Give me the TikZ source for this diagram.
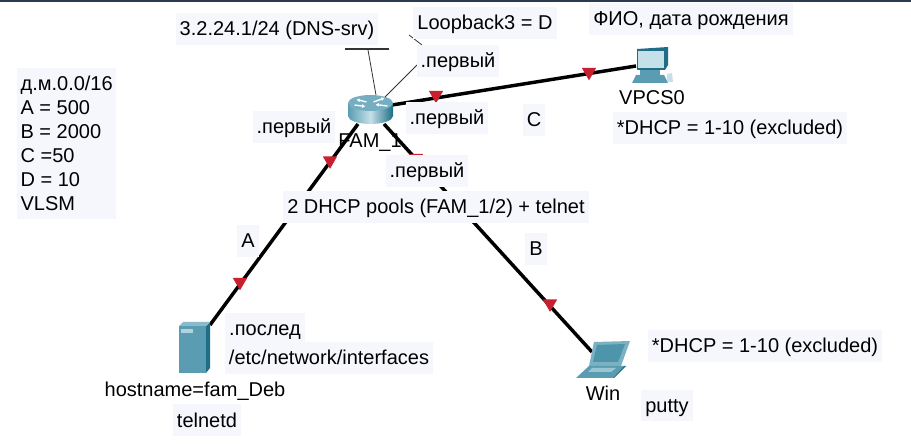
\documentclass[tikz,border=0pt]{standalone}
\usepackage{fontspec}
\setmainfont{Liberation Sans}
\usepackage{xcolor}
\usetikzlibrary{arrows.meta,calc,positioning,shapes.geometric}
\definecolor{Frame}{HTML}{2B3A4E}
\definecolor{Pale}{HTML}{F5F7FC}
\definecolor{Tip}{HTML}{C8202F}
\definecolor{DevDark}{HTML}{1F6E85}
\definecolor{DevMid}{HTML}{5A9DB3}
\definecolor{DevLight}{HTML}{C5E0E8}
\begin{document}
\begin{tikzpicture}[x=0.75pt,y=-0.75pt,
  lbl/.style={fill=Pale,inner xsep=3pt,inner ysep=0pt,minimum height=23.5pt,text height=14pt,text depth=3.5pt,font=\fontsize{15}{18}\selectfont},
  plain/.style={inner sep=0pt,text height=14pt,text depth=3.5pt,font=\fontsize{15}{18}\selectfont},
  link/.style={line width=2.6pt,color=black},
  thin/.style={line width=0.6pt,color=black!80},
  tipmark/.style={regular polygon,regular polygon sides=3,shape border rotate=180,fill=Tip,inner sep=0pt,minimum size=12.5pt},
  arrw/.style={-{Latex[length=2.5pt,width=3pt]},white,line width=1pt}
]
\useasboundingbox (0,0) rectangle (911,445);
\fill[Frame] (0,0) rectangle (911,2);

% devices are plain anchors, icons drawn after the links
\coordinate (fam) at (370.5,103);
\coordinate (famA) at (358,124);
\coordinate (famB) at (384,124);
\coordinate (famC) at (392,105);
\coordinate (deb) at (210,325);
\coordinate (win) at (592,352);
\coordinate (vpc) at (636,66);
\coordinate (dnsa) at (376,95);
\coordinate (dnsb) at (368,50);
\coordinate (dnsl) at (345,49);
\coordinate (dnsr) at (389,49);
\coordinate (lba) at (385,97);
\coordinate (lbb) at (417,65);
\coordinate (lbc) at (422,45);
\coordinate (lbd) at (409,35);

\draw[link] (famA)--(deb);
\draw[link] (famB)--(win);
\draw[link] (famC)--(vpc);
\draw[thin] (dnsa)--(dnsb);
\draw[thin,line width=1pt] (dnsl)--(dnsr);
\draw[thin] (lba)--(lbb);
\draw[thin] (lbc)--(lbd);

\node[tipmark] (ta1) at (330,160.5) {};
\node[tipmark] (ta2) at (240,282) {};
\node[tipmark] (tb1) at (416,158) {};
\node[tipmark] (tb2) at (550,303.5) {};
\node[tipmark] (tc1) at (436,95) {};
\node[tipmark] (tc2) at (589,72) {};

% router
\shade[left color=DevMid,right color=DevDark,middle color=DevLight] (348,103) -- (348,116) arc[start angle=180,end angle=0,x radius=22.5,y radius=8] -- (393,103) -- cycle;
\fill[DevMid!75!DevLight] (fam) ellipse[x radius=22.5,y radius=8];
\draw[arrw] ($(fam)+(-4,-1)$) -- ($(fam)+(-14,-3.5)$);
\draw[arrw] ($(fam)+(-16,2)$) -- ($(fam)+(-5,3.5)$);
\draw[arrw] ($(fam)+(3,-1)$) -- ($(fam)+(14,-5)$);
\draw[arrw] ($(fam)+(17,3)$) -- ($(fam)+(5,1.5)$);

% server
\fill[DevMid] (179,326) -- (206,326) -- (206,373) -- (179,373) -- cycle;
\fill[DevDark] (206,326) -- (210,322) -- (210,368) -- (206,373) -- cycle;
\fill[DevMid!70] (179,326) -- (183,322) -- (210,322) -- (206,326) -- cycle;
\fill[DevLight!80!DevMid] (181,329) rectangle (193,333);
\draw[DevDark!70,line width=0.5pt] (179,369) -- (206,369);

% pc
\fill[DevDark] (637,49) -- (668,47) -- (668,65) -- (665,70) -- (637,70) -- cycle;
\fill[DevLight] (638,51) rectangle (664,68);
\fill[DevMid] (640,70) rectangle (660,75);
\fill[DevMid] (636,75) -- (664,75) -- (668,83) -- (632,83) -- cycle;
\fill[DevLight] (667,74) -- (672,73) -- (673,82) -- (667,82) -- cycle;

% laptop
\fill[DevMid!70!DevLight] (594,342) -- (630,341) -- (621,366) -- (589,366) -- cycle;
\fill[DevMid!80!DevDark] (597,345) -- (625,344) -- (618,362) -- (593,362) -- cycle;
\fill[DevMid] (589,366) -- (624,366) -- (613,378) -- (576,378) -- cycle;
\fill[DevDark] (624,366) -- (626,366) -- (614,378) -- (613,378) -- cycle;
\fill[DevLight!60!DevMid] (592,368) -- (616,368) -- (611,372) -- (588,372) -- cycle;

\node[lbl] (dns) at (277,29) {3.2.24.1/24 (DNS-srv)};
\node[lbl] (lo) at (485,23) {Loopback3 = D};
\node[lbl] (ip1) at (458,61) {.первый};
\node[lbl] (fio) at (691,19) {ФИО, дата рождения};
\node[plain] (vpcs) at (652,98) {VPCS0};
\node[lbl] (ex1) at (730,128) {*DHCP = 1-10 (excluded)};
\node[lbl] (ip2) at (294,127) {.первый};
\node[lbl] (ip3) at (447,118) {.первый};
\node[lbl] (cc) at (534,120) {C};
\node[plain] (famn) at (370,141) {FAM\_1};
\node[lbl] (ip4) at (427,171) {.первый};
\node[lbl] (pools) at (436,207) {2 DHCP pools (FAM\_1/2) + telnet};
\node[lbl] (aa) at (248,241) {A};
\node[lbl] (bb) at (536,249) {B};
\node[lbl] (last) at (265,329) {.послед};
\node[lbl] (etc) at (329,358) {/etc/network/interfaces};
\node[plain] (host) at (195,390) {hostname=fam\_Deb};
\node[lbl] (tel) at (207,420) {telnetd};
\node[plain] (winn) at (603,394) {Win};
\node[lbl] (put) at (667,405.5) {putty};
\node[lbl] (ex2) at (765,346) {*DHCP = 1-10 (excluded)};
\node[fill=Pale,font=\fontsize{15}{18}\selectfont,inner xsep=2.5pt,inner ysep=6pt,anchor=north west,align=left] (vals) at (17,68) {д.м.0.0/16\\A = 500\\B = 2000\\C =50\\D = 10\\VLSM};
\end{tikzpicture}
\end{document}
